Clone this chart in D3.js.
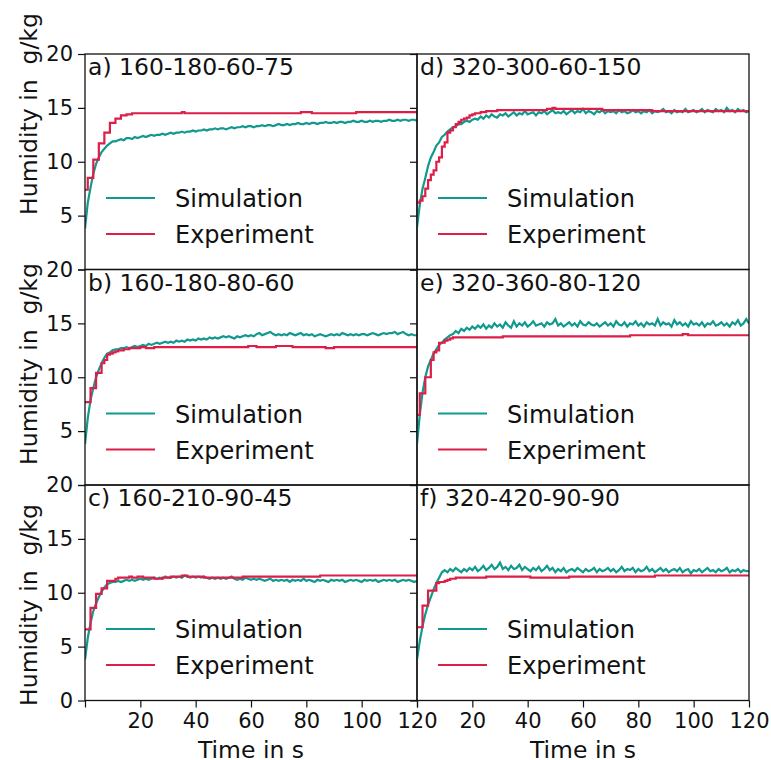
<!DOCTYPE html>
<html lang="en">
<head>
  <meta charset="UTF-8">
  <title>Humidity</title>
  <script src="https://d3js.org/d3.v7.min.js"></script>
  <style>
    body { margin: 0; background: #fff; }
    svg text { font-family: "DejaVu Sans", sans-serif; fill: #111; }
    .tick line { stroke: #111; stroke-width: 1.2px; }
    .frame { fill: none; stroke: #111; stroke-width: 1.3px; }
    .sim { fill: none; stroke: #10998e; stroke-width: 2.2px; }
    .exp { fill: none; stroke: #dc1e48; stroke-width: 2.2px; }
  </style>
</head>
<body>
<div id="chart"></div>
<script>
// panel titles
const titles = ["a) 160-180-60-75", "b) 160-180-80-60", "c) 160-210-90-45",
                "d) 320-300-60-150", "e) 320-360-80-120", "f) 320-420-90-90"];
const legendNames = ["Simulation", "Experiment"];
const yTicks = [0, 5, 10, 15, 20];
const xTicks = [0, 20, 40, 60, 80, 100, 120];

// humidity in g/kg, one value per second from t = 0 to 120 s
const simA = [3.8,6.2,7.6,8.9,9.8,10.4,10.9,11.2,11.5,11.7,11.9,11.9,12.0,12.1,12.0,12.2,12.2,12.1,12.3,12.2,
  12.3,12.4,12.3,12.4,12.5,12.4,12.5,12.5,12.6,12.5,12.6,12.7,12.6,12.7,12.7,12.8,12.7,12.8,12.8,12.9,
  12.8,12.9,12.9,13.0,12.9,13.0,13.0,13.1,13.0,13.1,13.1,13.0,13.1,13.2,13.1,13.2,13.2,13.3,13.2,13.3,
  13.3,13.2,13.3,13.3,13.4,13.3,13.4,13.4,13.3,13.4,13.5,13.4,13.4,13.5,13.4,13.5,13.5,13.6,13.5,13.5,
  13.6,13.5,13.6,13.6,13.5,13.6,13.6,13.7,13.6,13.6,13.7,13.6,13.7,13.7,13.6,13.7,13.7,13.8,13.7,13.7,
  13.8,13.7,13.7,13.8,13.7,13.8,13.8,13.7,13.8,13.8,13.9,13.8,13.8,13.9,13.8,13.9,13.9,13.8,13.9,13.9,13.8];
const expA = [7.4,8.5,8.5,10.2,10.2,11.7,11.7,12.7,12.7,13.6,13.6,14.0,14.0,14.3,14.3,14.4,14.4,14.5,
  14.5,14.5,14.5,14.5,14.5,14.5,14.5,14.5,14.5,14.5,14.5,14.5,14.5,14.5,14.5,14.5,14.5,14.6,14.5,14.5,
  14.5,14.5,14.5,14.5,14.5,14.5,14.5,14.5,14.5,14.5,14.5,14.5,14.5,14.5,14.5,14.5,14.5,14.5,14.5,14.5,
  14.5,14.5,14.5,14.5,14.5,14.5,14.5,14.5,14.5,14.5,14.5,14.5,14.5,14.5,14.5,14.5,14.5,14.5,14.5,14.5,
  14.6,14.6,14.6,14.6,14.5,14.5,14.5,14.5,14.5,14.5,14.5,14.5,14.5,14.5,14.5,14.5,14.5,14.5,14.5,14.5,
  14.6,14.6,14.6,14.6,14.6,14.6,14.6,14.6,14.6,14.6,14.6,14.6,14.6,14.6,14.6,14.6,14.6,14.6,14.6,14.6,
  14.6,14.6,14.6];

const simB = [3.8,6.2,7.9,9.0,10.0,10.7,11.3,11.8,12.2,12.3,12.5,12.6,12.6,12.7,12.7,12.8,12.7,12.8,12.9,12.8,12.9,
  13.0,12.9,13.1,13.0,13.1,13.2,13.1,13.2,13.3,13.2,
  13.3,13.2,13.4,13.3,13.4,13.3,13.5,13.4,13.5,13.4,
  13.6,13.5,13.6,13.5,13.7,13.6,13.7,13.6,13.7,13.8,
  13.7,13.8,13.7,13.6,13.8,13.7,13.8,13.9,13.8,13.9,
  13.8,14.0,14.1,13.9,14.0,14.1,14.2,14.0,13.9,14.0,
  13.9,14.0,13.9,14.1,14.0,13.9,14.0,14.1,13.9,14.0,
  13.9,14.0,13.8,13.9,14.0,13.9,13.8,13.9,14.0,13.9,
  14.0,13.9,14.1,14.0,13.9,14.0,13.9,14.0,13.9,14.0,
  14.0,13.9,14.0,14.1,14.0,13.9,14.0,14.1,14.0,14.1,
  14.1,14.2,14.0,14.1,14.2,14.0,13.9,14.0,13.9,13.9];
const expB = [7.7,7.7,9.0,9.0,10.4,10.4,11.3,11.6,12.1,12.2,12.3,12.4,12.5,12.5,12.6,12.6,12.7,12.7,12.7,12.7,12.8,
  12.8,12.7,12.7,12.7,12.8,12.8,12.8,12.8,12.8,12.8,
  12.8,12.8,12.8,12.8,12.8,12.8,12.8,12.8,12.8,12.8,
  12.8,12.8,12.8,12.8,12.8,12.8,12.8,12.8,12.8,12.8,
  12.8,12.8,12.8,12.8,12.8,12.8,12.8,12.8,12.9,12.9,
  12.9,12.8,12.8,12.8,12.8,12.8,12.8,12.8,12.9,12.9,
  12.9,12.9,12.9,12.9,12.8,12.8,12.8,12.8,12.8,12.8,
  12.8,12.8,12.8,12.8,12.8,12.8,12.7,12.7,12.7,12.8,
  12.8,12.8,12.8,12.8,12.8,12.8,12.8,12.8,12.8,12.8,
  12.8,12.8,12.8,12.8,12.8,12.8,12.8,12.8,12.8,12.8,
  12.8,12.8,12.8,12.8,12.8,12.8,12.8,12.8,12.8,12.8];

const simC = [3.8,5.8,7.2,8.3,9.0,9.6,10.1,10.5,10.8,10.9,11.0,11.0,11.1,
  11.0,11.1,11.2,11.1,11.2,11.1,11.2,11.3,
  11.2,11.3,11.2,11.3,11.4,11.3,11.4,11.3,11.5,11.4,
  11.4,11.5,11.4,11.5,11.4,11.6,11.5,11.4,11.5,11.4,
  11.5,11.4,11.5,11.4,11.3,11.4,11.3,11.4,11.3,11.4,
  11.3,11.4,11.5,11.3,11.2,11.3,11.2,11.4,11.3,11.2,
  11.3,11.2,11.3,11.2,11.1,11.2,11.3,11.1,11.2,11.1,
  11.2,11.1,11.2,11.0,11.2,11.1,11.2,11.1,11.3,11.1,
  11.2,11.1,11.0,11.2,11.1,11.2,11.1,11.0,11.2,11.1,
  11.2,11.1,11.2,11.0,11.1,11.2,11.1,11.2,11.1,11.0,
  11.2,11.1,11.2,11.1,11.2,11.0,11.1,11.2,11.1,11.2,
  11.1,11.2,11.0,11.1,11.2,11.1,11.2,11.1,11.0,11.1];
const expC = [6.6,6.6,8.6,8.6,9.9,9.9,10.4,10.4,11.1,11.1,11.1,11.3,11.4,
  11.4,11.4,11.4,11.5,11.4,11.4,11.5,11.5,
  11.4,11.4,11.4,11.4,11.3,11.3,11.3,11.4,11.4,11.4,
  11.5,11.5,11.5,11.5,11.6,11.6,11.5,11.5,11.5,11.5,
  11.5,11.5,11.4,11.4,11.4,11.4,11.4,11.4,11.4,11.4,
  11.4,11.4,11.4,11.4,11.4,11.4,11.5,11.5,11.5,11.5,
  11.5,11.5,11.5,11.5,11.5,11.5,11.5,11.5,11.5,11.5,
  11.5,11.5,11.5,11.5,11.5,11.5,11.5,11.5,11.5,11.5,
  11.5,11.5,11.5,11.5,11.6,11.6,11.6,11.6,11.6,11.6,
  11.6,11.6,11.6,11.6,11.6,11.6,11.6,11.6,11.6,11.6,
  11.6,11.6,11.6,11.6,11.6,11.6,11.6,11.6,11.6,11.6,
  11.6,11.6,11.6,11.6,11.6,11.6,11.6,11.6,11.6,11.6];

const simD = [3.9,6.0,7.5,8.5,9.6,10.4,10.9,11.5,11.8,12.3,12.5,12.8,13.0,13.2,13.3,13.5,13.5,13.7,13.8,13.7,13.9,
  14.0,13.9,14.2,14.0,14.3,14.1,14.4,14.2,14.1,14.4,
  14.3,14.5,14.2,14.4,14.6,14.3,14.5,14.4,14.7,14.4,
  14.5,14.6,14.3,14.6,14.5,14.7,14.4,14.6,14.8,14.5,
  14.6,14.5,14.7,14.4,14.6,14.8,14.5,14.7,14.6,14.9,
  14.5,14.7,14.6,14.4,14.7,14.6,14.8,14.5,14.7,14.6,
  14.7,14.5,14.8,14.6,14.7,14.5,14.6,14.8,14.6,14.7,
  14.5,14.7,14.6,14.8,14.5,14.7,14.6,14.7,14.9,14.6,
  14.7,14.5,14.8,14.6,14.7,14.6,14.9,14.6,14.7,14.8,
  14.6,14.7,14.9,14.6,14.8,14.7,14.6,14.9,14.7,14.8,
  14.6,15.0,14.7,14.8,14.6,14.9,14.7,14.8,14.6,14.7];
const expD = [6.2,6.4,6.8,7.5,8.3,8.8,9.2,10.0,10.4,11.4,11.8,12.7,12.9,13.2,13.5,13.7,13.9,14.0,14.1,14.3,14.4,
  14.5,14.5,14.6,14.6,14.7,14.7,14.7,14.7,14.8,14.8,
  14.8,14.8,14.8,14.8,14.8,14.8,14.8,14.8,14.8,14.8,
  14.8,14.8,14.8,14.8,14.8,14.8,14.9,14.9,15.0,14.9,
  14.9,14.9,14.9,14.9,14.9,14.9,14.9,14.9,14.9,14.9,
  14.9,14.9,14.9,14.9,14.9,14.9,14.8,14.8,14.8,14.8,
  14.8,14.8,14.8,14.8,14.8,14.8,14.8,14.8,14.8,14.8,
  14.8,14.8,14.8,14.8,14.7,14.7,14.7,14.7,14.7,14.7,
  14.7,14.7,14.7,14.7,14.7,14.7,14.7,14.7,14.7,14.7,
  14.7,14.7,14.7,14.7,14.7,14.7,14.7,14.7,14.7,14.7,
  14.7,14.7,14.7,14.7,14.7,14.7,14.7,14.7,14.7,14.7];

const simE = [3.8,6.5,8.6,10.0,11.0,11.6,12.2,12.6,13.0,13.2,13.5,13.7,13.9,14.0,14.3,14.1,14.5,14.3,14.6,14.4,14.7,
  14.5,14.8,14.6,14.9,14.5,14.8,14.6,15.0,14.7,14.9,
  14.6,15.1,14.8,14.6,15.2,14.7,15.0,14.8,15.1,14.7,
  14.9,15.2,14.8,14.9,15.0,14.7,15.1,14.9,15.0,15.4,
  14.8,15.0,14.7,14.9,15.1,14.8,15.0,14.7,15.2,14.9,
  14.8,15.1,14.9,14.8,15.0,14.7,14.9,15.1,14.8,15.0,
  14.7,15.2,14.9,14.8,15.1,14.7,15.0,14.9,15.2,14.8,
  15.0,14.7,15.1,14.9,15.0,14.8,15.4,14.8,15.1,14.9,
  15.0,14.7,15.3,14.9,15.1,14.8,15.0,14.7,15.2,14.9,
  15.0,14.8,15.1,14.7,15.0,14.9,15.2,14.8,14.9,15.1,
  14.8,15.0,14.7,15.1,14.9,15.3,14.8,15.0,15.4,15.0];
const expE = [6.5,8.5,8.5,10.0,10.0,11.6,12.3,12.5,13.2,13.2,13.4,13.5,13.6,13.7,13.7,13.7,13.7,13.7,13.7,13.7,13.7,
  13.7,13.7,13.7,13.7,13.7,13.7,13.7,13.7,13.7,13.7,
  13.8,13.8,13.8,13.8,13.8,13.8,13.8,13.8,13.8,13.8,
  13.8,13.8,13.8,13.8,13.8,13.8,13.8,13.8,13.8,13.8,
  13.8,13.8,13.8,13.8,13.8,13.8,13.8,13.8,13.8,13.8,
  13.8,13.8,13.8,13.8,13.8,13.8,13.8,13.8,13.8,13.8,
  13.8,13.8,13.8,13.8,13.8,13.8,13.9,13.9,13.9,13.9,
  13.9,13.9,13.9,13.9,13.9,13.9,13.9,13.9,13.9,13.9,
  13.9,13.9,13.9,13.9,13.9,14.0,14.0,13.9,13.9,13.9,
  13.9,13.9,13.9,13.9,13.9,13.9,13.9,13.9,13.9,13.9,
  13.9,13.9,13.9,13.9,13.9,13.9,13.9,13.9,13.9,13.9];

const simF = [3.8,5.5,6.9,8.0,8.9,9.6,10.3,10.9,11.4,11.9,12.1,
  11.9,12.2,12.0,12.3,12.1,11.9,12.2,12.0,12.3,12.1,
  12.4,12.0,12.2,12.5,12.1,12.3,12.6,12.2,12.4,12.8,
  12.2,12.4,12.1,12.5,12.2,12.3,12.6,12.1,12.4,12.2,
  12.0,12.3,12.1,12.4,12.0,12.2,12.5,12.1,12.3,11.9,
  12.2,12.0,12.3,11.9,12.1,12.2,12.0,12.3,12.1,11.9,
  12.2,12.0,12.1,12.3,11.9,12.2,12.0,12.1,12.3,12.0,
  12.2,11.9,12.1,12.4,12.0,12.2,12.1,12.3,11.9,12.2,
  12.0,12.1,12.4,12.0,12.2,11.9,12.1,12.3,12.0,12.2,
  11.9,12.1,12.2,12.0,12.3,11.9,12.1,12.2,11.8,12.1,
  12.0,12.2,11.9,12.1,12.3,12.0,12.1,11.9,12.2,12.0,
  12.1,12.3,11.9,12.1,12.0,12.2,11.9,12.1,12.0,12.0];
const expF = [6.8,6.8,8.8,8.8,10.2,10.2,10.2,10.9,11.0,11.0,11.1,11.2,11.3,
  11.3,11.4,11.4,11.4,11.4,11.4,11.4,11.4,
  11.4,11.4,11.4,11.4,11.5,11.5,11.5,11.5,11.5,11.5,
  11.5,11.5,11.5,11.5,11.5,11.5,11.5,11.5,11.5,11.5,
  11.4,11.4,11.4,11.4,11.4,11.4,11.4,11.4,11.4,11.4,
  11.4,11.4,11.4,11.4,11.5,11.5,11.5,11.5,11.5,11.5,
  11.5,11.5,11.5,11.5,11.5,11.5,11.5,11.5,11.5,11.5,
  11.5,11.5,11.5,11.5,11.5,11.5,11.5,11.5,11.5,11.5,
  11.5,11.5,11.5,11.5,11.5,11.6,11.6,11.6,11.6,11.6,
  11.6,11.6,11.6,11.6,11.6,11.6,11.6,11.6,11.6,11.6,
  11.6,11.6,11.6,11.6,11.6,11.6,11.6,11.6,11.6,11.6,
  11.6,11.6,11.6,11.6,11.6,11.6,11.6,11.6,11.6,11.6];

const simSeries = [simA, simB, simC, simD, simE, simF];
const expSeries = [expA, expB, expC, expD, expE, expF];

// layout
const W = 771, H = 760;
const marginLeft = 85, marginTop = 54, panelW = 332, panelH = 215.5;
// y label centres per row (label not centred on panel in reference)
const yLabelCenter = [114, 364, 605];

const svg = d3.select("#chart").append("svg")
  .attr("width", W).attr("height", H);

const x = d3.scaleLinear().domain([0, 120]).range([0, panelW]);
const y = d3.scaleLinear().domain([0, 20]).range([panelH, 0]);

const simLine = d3.line().x((d, i) => x(i)).y(d => y(d));
const expLine = d3.line().x((d, i) => x(i)).y(d => y(d)).curve(d3.curveStepAfter);

svg.append("defs").append("clipPath").attr("id", "clip")
  .append("rect").attr("width", panelW).attr("height", panelH);

titles.forEach((title, k) => {
  const col = k < 3 ? 0 : 1;
  const row = k % 3;
  const g = svg.append("g")
    .attr("transform", `translate(${marginLeft + col * panelW},${marginTop + row * panelH})`);

  const lines = g.append("g").attr("clip-path", "url(#clip)");
  lines.append("path").attr("class", "sim").attr("d", simLine(simSeries[k]));
  lines.append("path").attr("class", "exp").attr("d", expLine(expSeries[k]));

  // y axis
  const ya = g.append("g").call(d3.axisLeft(y).tickValues(yTicks).tickSize(7).tickPadding(5)
    .tickFormat(d => (col === 1 || (d === 0 && row < 2)) ? "" : d));
  ya.select(".domain").remove();
  ya.selectAll("text").style("font-size", "21px");

  // x axis on bottom row
  if (row === 2) {
    const xa = g.append("g").attr("transform", `translate(0,${panelH})`)
      .call(d3.axisBottom(x).tickValues(xTicks).tickSize(7).tickPadding(6)
        .tickFormat(d => d === 0 ? "" : d));
    xa.select(".domain").remove();
    xa.selectAll("text").style("font-size", "21px");
    g.append("text").attr("x", panelW / 2).attr("y", panelH + 57)
      .attr("text-anchor", "middle").style("font-size", "23.5px").text("Time in s");
  }

  g.append("rect").attr("class", "frame").attr("width", panelW).attr("height", panelH);

  // panel title
  g.append("text").attr("x", 3).attr("y", 21).style("font-size", "23.5px").text(title);

  // legend
  const leg = g.append("g").attr("transform", "translate(21,144)");
  legendNames.forEach((name, j) => {
    leg.append("line").attr("class", j === 0 ? "sim" : "exp")
      .attr("x1", 0).attr("x2", 49).attr("y1", j * 36).attr("y2", j * 36);
    leg.append("text").attr("x", 69).attr("y", j * 36 + 9)
      .style("font-size", "24px").text(name);
  });

  if (col === 0) {
    svg.append("text")
      .attr("transform", `translate(37,${yLabelCenter[row]}) rotate(-90)`)
      .attr("text-anchor", "middle").style("font-size", "23.5px")
      .attr("xml:space", "preserve").style("white-space", "pre")
      .text("Humidity in  g/kg");
  }
});
</script>
</body>
</html>
